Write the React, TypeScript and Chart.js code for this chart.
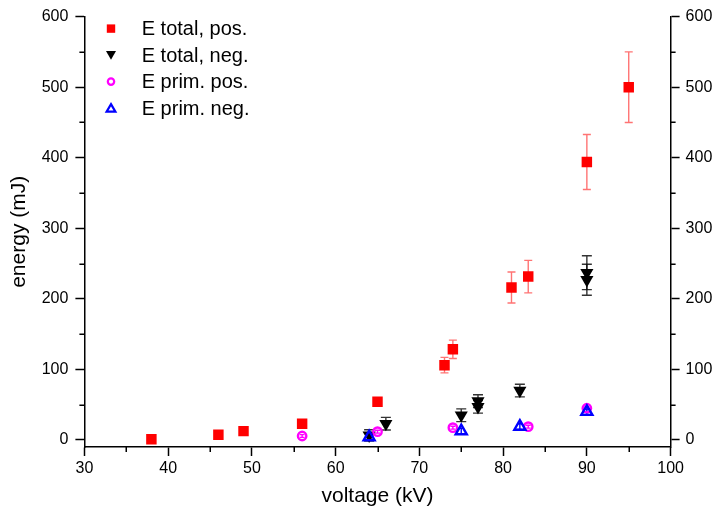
import React, { useEffect, useRef } from "react";
import { Chart, registerables } from "chart.js";

Chart.register(...registerables);

// ---- data ----
const seriesNames = ["E total, pos.", "E total, neg.", "E prim. pos.", "E prim. neg."];

const totalPosX = [38, 46, 49, 56, 65, 73, 74, 81, 83, 90, 95];
const totalPosY = [1, 7.5, 12.5, 23, 54, 106, 128.5, 216, 231.5, 394, 500];
const totalPosErr = [1, 1.5, 2, 3, 4, 11, 13, 22, 23, 39, 50];

const totalNegX = [64, 66, 75, 77, 77, 82, 90, 90];
const totalNegY = [6.5, 23, 35, 55, 47, 70, 237, 227];
const totalNegErr = [8, 9, 9, 9, 9, 9, 24, 22];

const primPosX = [56, 65, 74, 83, 90];
const primPosY = [5.6, 11.7, 17.4, 18.8, 45];
const primPosErr = [2, 2, 2, 2, 2];

const primNegX = [64, 75, 82, 90];
const primNegY = [4, 12.5, 19, 40];
const primNegErr = [4, 4, 4, 4];

const xTicks = [30, 40, 50, 60, 70, 80, 90, 100];
const xMinorTicks = [35, 45, 55, 65, 75, 85, 95];
const yTicks = [0, 100, 200, 300, 400, 500, 600];
const yMinorTicks = [50, 150, 250, 350, 450, 550];

const FONT = "'Liberation Sans', Arial, Helvetica, sans-serif";

const pts = (xs: number[], ys: number[]) => xs.map((x, i) => ({ x, y: ys[i] }));

const errorBarPlugin = {
  id: "errorBars",
  beforeDatasetsDraw(chart: any) {
    const { ctx } = chart;
    const xs = chart.scales.x;
    const ys = chart.scales.y;
    chart.data.datasets.forEach((ds: any) => {
      const errs: number[] | undefined = ds.errors;
      if (!errs) return;
      ctx.save();
      ctx.strokeStyle = ds.errorColor;
      ctx.lineWidth = 1.4;
      const cap = ds.errorCap;
      ds.data.forEach((p: any, j: number) => {
        const e = errs[j];
        if (!e) return;
        const x = xs.getPixelForValue(p.x);
        const y1 = ys.getPixelForValue(p.y + e);
        const y2 = ys.getPixelForValue(p.y - e);
        ctx.beginPath();
        ctx.moveTo(x, y1);
        ctx.lineTo(x, y2);
        ctx.moveTo(x - cap, y1);
        ctx.lineTo(x + cap, y1);
        ctx.moveTo(x - cap, y2);
        ctx.lineTo(x + cap, y2);
        ctx.stroke();
      });
      ctx.restore();
    });
  },
};

const minorTicksPlugin = {
  id: "minorTicks",
  afterDraw(chart: any) {
    const { ctx, chartArea, scales } = chart;
    ctx.save();
    ctx.strokeStyle = "#000";
    ctx.lineWidth = 1.5;
    ctx.beginPath();
    xMinorTicks.forEach((v) => {
      const x = Math.round(scales.x.getPixelForValue(v)) + 0.25;
      ctx.moveTo(x, chartArea.bottom);
      ctx.lineTo(x, chartArea.bottom + 5);
    });
    yMinorTicks.forEach((v) => {
      const y = Math.round(scales.y.getPixelForValue(v)) + 0.25;
      ctx.moveTo(chartArea.left, y);
      ctx.lineTo(chartArea.left - 5, y);
      ctx.moveTo(chartArea.right, y);
      ctx.lineTo(chartArea.right + 5, y);
    });
    ctx.stroke();
    ctx.restore();
  },
};

const legendPlugin = {
  id: "insideLegend",
  afterDraw(chart: any) {
    const { ctx, chartArea } = chart;
    const cx = chartArea.left + 26.6;
    const tx = chartArea.left + 57.3;
    const y0 = chartArea.top + 12;
    const step = 26.5;
    ctx.save();
    seriesNames.forEach((name, i) => {
      const cy = y0 + i * step;
      ctx.beginPath();
      if (i === 0) {
        ctx.fillStyle = "#ff0000";
        ctx.fillRect(cx - 4.2, cy - 4.2, 8.4, 8.4);
      } else if (i === 1) {
        ctx.fillStyle = "#000";
        ctx.moveTo(cx - 5, cy - 4);
        ctx.lineTo(cx + 5, cy - 4);
        ctx.lineTo(cx, cy + 4.6);
        ctx.closePath();
        ctx.fill();
      } else if (i === 2) {
        ctx.strokeStyle = "#ff00ff";
        ctx.lineWidth = 2.2;
        ctx.arc(cx, cy, 3.2, 0, Math.PI * 2);
        ctx.stroke();
      } else {
        ctx.strokeStyle = "#0000ff";
        ctx.lineWidth = 2.2;
        ctx.lineJoin = "miter";
        ctx.moveTo(cx, cy - 4);
        ctx.lineTo(cx + 4.4, cy + 3.6);
        ctx.lineTo(cx - 4.4, cy + 3.6);
        ctx.closePath();
        ctx.stroke();
      }
      ctx.fillStyle = "#000";
      ctx.font = `20px ${FONT}`;
      ctx.textBaseline = "middle";
      ctx.textAlign = "left";
      ctx.fillText(name, tx, cy + 1);
    });
    ctx.restore();
  },
};

const tickFont = { family: FONT, size: 16 };
const titleFont = { family: FONT, size: 21 };

export default function App() {
  const ref = useRef<HTMLCanvasElement>(null);

  useEffect(() => {
    if (!ref.current) return;
    const yCommon = {
      type: "linear" as const,
      min: -10,
      max: 600,
      afterBuildTicks: (s: any) => {
        s.ticks = yTicks.map((v) => ({ value: v }));
      },
      grid: { drawOnChartArea: false, drawTicks: true, tickLength: 9, tickWidth: 1.5, tickColor: "#000" },
      border: { display: true, color: "#000", width: 1.5 },
    };
    const chart = new Chart(ref.current, {
      type: "scatter",
      data: {
        datasets: [
          {
            label: seriesNames[0],
            data: pts(totalPosX, totalPosY),
            pointStyle: "rect",
            pointRadius: 7.4,
            pointBorderWidth: 0,
            backgroundColor: "#ff0000",
            borderColor: "#ff0000",
            order: 4,
            errors: totalPosErr,
            errorColor: "rgba(255,0,0,0.55)",
            errorCap: 4,
          } as any,
          {
            label: seriesNames[1],
            data: pts(totalNegX, totalNegY),
            pointStyle: "triangle",
            rotation: 180,
            pointRadius: 7.6,
            pointBorderWidth: 0,
            backgroundColor: "#000",
            borderColor: "#000",
            order: 3,
            errors: totalNegErr,
            errorColor: "rgba(0,0,0,0.8)",
            errorCap: 5,
          } as any,
          {
            label: seriesNames[2],
            data: pts(primPosX, primPosY),
            pointStyle: "circle",
            pointRadius: 4.2,
            pointBorderWidth: 2.4,
            backgroundColor: "rgba(0,0,0,0)",
            borderColor: "#ff00ff",
            order: 2,
            errors: primPosErr,
            errorColor: "#ff00ff",
            errorCap: 2.5,
          } as any,
          {
            label: seriesNames[3],
            data: pts(primNegX, primNegY),
            pointStyle: "triangle",
            pointRadius: 6.4,
            pointBorderWidth: 2.4,
            backgroundColor: "rgba(0,0,0,0)",
            borderColor: "#0000ff",
            order: 1,
            errors: primNegErr,
            errorColor: "#0000ff",
            errorCap: 2.5,
          } as any,
        ],
      },
      options: {
        animation: false,
        responsive: true,
        maintainAspectRatio: false,
        events: [],
        layout: { padding: { top: 15, left: 0, right: 0, bottom: 0 } },
        plugins: {
          legend: { display: false },
          tooltip: { enabled: false },
        },
        scales: {
          x: {
            type: "linear",
            position: "bottom",
            min: 30,
            max: 100,
            afterBuildTicks: (s: any) => {
              s.ticks = xTicks.map((v) => ({ value: v }));
            },
            afterFit: (s: any) => {
              s.height = 69;
            },
            grid: { drawOnChartArea: false, drawTicks: true, tickLength: 9, tickWidth: 1.5, tickColor: "#000" },
            border: { display: true, color: "#000", width: 1.5 },
            ticks: { color: "#000", font: tickFont, padding: 3, maxRotation: 0, autoSkip: false },
            title: {
              display: true,
              text: "voltage (kV)",
              color: "#000",
              font: titleFont,
              padding: { top: 0, bottom: 7 },
            },
          },
          y: {
            ...yCommon,
            position: "left",
            afterFit: (s: any) => {
              s.width = 84.4;
            },
            ticks: { color: "#000", font: tickFont, padding: 7, autoSkip: false },
            title: {
              display: true,
              text: "energy (mJ)",
              color: "#000",
              font: titleFont,
              padding: { top: 7, bottom: 0 },
            },
          },
          y2: {
            ...yCommon,
            position: "right",
            afterFit: (s: any) => {
              s.width = 42.4;
            },
            ticks: { color: "#000", font: tickFont, padding: 6, autoSkip: false },
          },
        },
      } as any,
      plugins: [errorBarPlugin, minorTicksPlugin, legendPlugin],
    });
    return () => chart.destroy();
  }, []);

  return (
    <div style={{ position: "fixed", left: 0, top: 0, width: 713, height: 516, background: "#fff" }}>
      <canvas ref={ref} />
    </div>
  );
}
